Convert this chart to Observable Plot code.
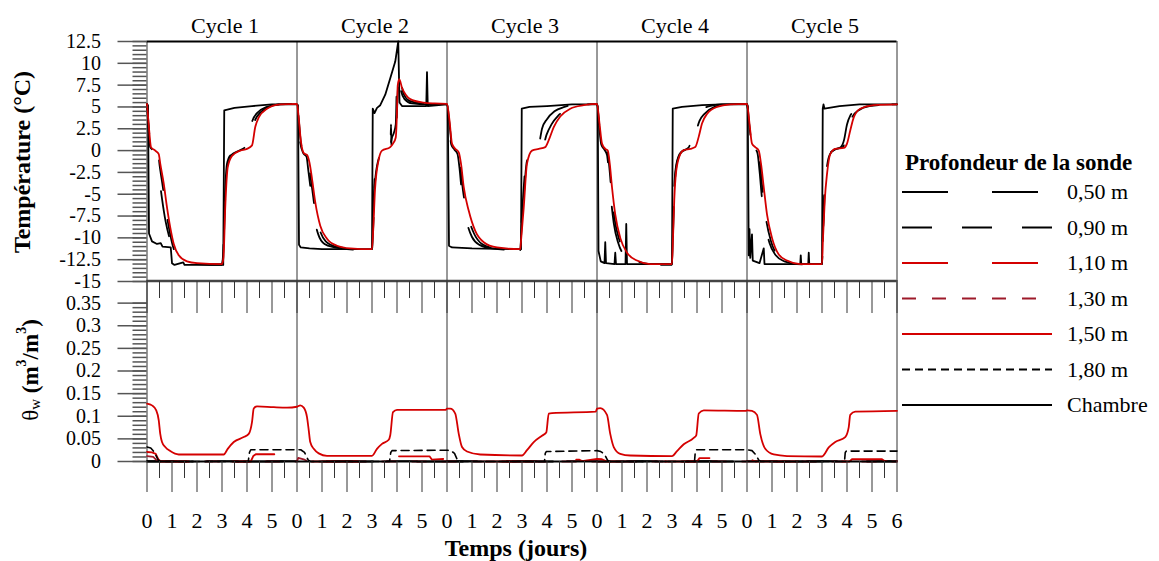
<!DOCTYPE html>
<html><head><meta charset="utf-8">
<script src="https://cdn.jsdelivr.net/npm/d3@7"></script>
<script src="https://cdn.jsdelivr.net/npm/@observablehq/plot@0.6"></script>
<style>
html,body{margin:0;padding:0;background:#fff;}
#chart{position:relative;width:1159px;height:561px;overflow:hidden;background:#fff;}
#chart svg{position:absolute;left:0;}
</style></head><body><div id="chart"></div>
<script>
// ---------------- DATA ----------------
const cycleLabels = ["Cycle 1", "Cycle 2", "Cycle 3", "Cycle 4", "Cycle 5"];
const cycleStarts = [0, 6, 12, 18, 24];
const cycleBounds = [0, 6, 12, 18, 24, 30];
const tempTicks = [-15, -12.5, -10, -7.5, -5, -2.5, 0, 2.5, 5, 7.5, 10, 12.5];
const thetaTicks = [0, 0.05, 0.1, 0.15, 0.2, 0.25, 0.3, 0.35];
const thetaTickLabels = ["0", "0.05", "0.1", "0.15", "0.2", "0.25", "0.3", "0.35"];
const dayTickLabels = ["0","1","2","3","4","5","0","1","2","3","4","5","0","1","2","3","4","5",
                       "0","1","2","3","4","5","0","1","2","3","4","5","6"];
const legendLabels = ["0,50 m", "0,90 m", "1,10 m", "1,30 m", "1,50 m", "1,80 m", "Chambre"];

// Temperature (°C) vs global time (days)
const tempChambre = [
 [0,5.3],[0.04,5.2],[0.08,-9.5],[0.2,-10.4],[0.4,-10.7],[0.55,-10.6],[0.62,-11.0],[0.95,-11.1],[1.0,-12.9],[1.1,-13.1],[1.45,-12.8],[1.5,-13.1],[3.05,-13.1],[3.09,4.6],[3.5,4.9],[4.2,5.1],[5.0,5.3],
 [6.0,5.3],[6.04,5.2],[6.08,-10.8],[6.15,-11.1],[6.5,-11.2],[7.0,-11.3],[9.0,-11.3],[9.03,4.8],[9.1,4.3],[9.2,4.9],[9.33,5.2],[9.53,6.4],[9.73,8.3],[9.93,10.2],[10.05,12.5],[10.1,5.5],[10.2,5.1],[11.17,5.1],[11.2,9.0],[11.23,5.1],
 [12.0,5.3],[12.03,5.0],[12.08,-10.9],[12.2,-11.1],[13.0,-11.2],[14.96,-11.3],[14.99,4.8],[15.3,5.0],[16.0,5.1],[17.0,5.3],
 [18.0,5.3],[18.03,5.1],[18.06,-11.5],[18.15,-12.7],[18.3,-12.9],[18.33,-10.5],[18.36,-12.9],[18.7,-13.0],[18.73,-11.7],[18.76,-13.0],[19.14,-13.0],[19.17,-8.4],[19.2,-13.0],[21.0,-13.0],[21.03,4.8],[21.4,5.0],[22.2,5.2],[23.0,5.3],
 [24.0,5.3],[24.03,5.0],[24.07,-12.0],[24.1,-9.0],[24.13,-12.3],[24.2,-9.6],[24.23,-12.6],[24.5,-12.9],[24.67,-11.2],[24.7,-13.0],[26.13,-13.0],[26.15,-12.0],[26.17,-13.0],[26.45,-13.0],[26.47,-11.7],[26.49,-13.0],[27.0,-13.0],[27.03,4.8],[27.06,5.3],[27.1,4.8],[27.7,5.1],[28.5,5.3],[30.0,5.3]
];
const temp050 = [
 [0,5.36],[0.05,3.0],[0.13,0.4],[0.3,-0.1],[0.4,-0.6],[0.47,-2.5],[0.6,-5.5],[0.75,-8.2],[0.9,-10.0],[1.05,-11.3],[1.2,-12.3],[1.5,-12.8],[2.0,-13.0],[3.0,-13.1],[3.05,-11.5],[3.12,-5.0],[3.2,-1.5],[3.35,-0.5],[3.6,-0.2],[3.85,0.3],[3.95,1.2],[4.05,1.5],[4.2,3.3],[4.4,4.3],[4.8,5.0],[5.3,5.3],
 [6.0,5.36],[6.04,4.0],[6.13,0.9],[6.25,-0.3],[6.38,-0.7],[6.45,-2.2],[6.55,-4.5],[6.68,-7.5],[6.85,-9.6],[7.1,-10.7],[7.5,-11.1],[8.0,-11.3],[9.0,-11.4],[9.04,-8.0],[9.1,-3.5],[9.22,-0.8],[9.4,-0.3],[9.7,0.2],[9.8,1.5],[9.87,2.0],[9.95,3.0],[10.0,8.0],[10.07,9.0],[10.15,7.0],[10.3,5.9],[10.6,5.4],[11.2,5.3],
 [12.0,5.36],[12.08,3.2],[12.17,0.7],[12.3,0.1],[12.42,-0.4],[12.5,-2.0],[12.6,-5.0],[12.78,-8.0],[13.0,-9.9],[13.3,-10.8],[13.8,-11.2],[14.93,-11.4],[14.97,-9.0],[15.05,-5.0],[15.17,-1.2],[15.35,-0.1],[15.6,0.2],[15.7,1.0],[15.8,2.5],[16.0,3.6],[16.3,4.5],[16.7,5.0],[17.2,5.3],
 [18.0,5.36],[18.08,3.0],[18.17,0.7],[18.3,0.1],[18.4,-0.5],[18.47,-2.3],[18.56,-5.5],[18.67,-8.3],[18.85,-10.6],[19.1,-12.0],[19.5,-12.7],[20.0,-13.0],[21.0,-13.1],[21.04,-9.0],[21.08,-5.0],[21.15,-2.0],[21.3,-0.4],[21.45,0.0],[21.65,0.3],[21.75,1.0],[21.87,3.0],[22.0,4.0],[22.13,4.5],[22.5,5.1],[23.0,5.3],
 [24.0,5.36],[24.08,3.0],[24.17,0.7],[24.3,0.3],[24.42,-0.3],[24.5,-2.3],[24.6,-5.5],[24.72,-8.3],[24.9,-10.6],[25.15,-12.0],[25.5,-12.7],[26.0,-13.0],[27.0,-13.1],[27.04,-9.0],[27.09,-5.0],[27.17,-2.0],[27.3,-0.4],[27.5,0.1],[27.75,0.4],[27.88,1.2],[28.0,3.0],[28.13,4.0],[28.27,4.5],[28.6,5.1],[29.1,5.3],[30.0,5.3]
];
const temp090 = [
 [0,5.36],[0.06,3.0],[0.15,0.4],[0.32,0.0],[0.45,-0.5],[0.51,-1.8],[0.64,-4.3],[0.77,-7.0],[0.9,-9.2],[1.04,-11.0],[1.22,-12.1],[1.55,-12.8],[2.0,-13.0],[3.0,-13.0],[3.05,-12.0],[3.12,-6.0],[3.21,-1.8],[3.38,-0.5],[3.7,0.0],[3.95,0.5],[4.1,1.5],[4.25,3.0],[4.4,3.9],[4.75,4.8],[5.3,5.3],
 [6.0,5.36],[6.05,4.2],[6.15,1.0],[6.26,-0.3],[6.39,-0.6],[6.48,-1.8],[6.58,-3.8],[6.71,-6.6],[6.9,-9.0],[7.15,-10.4],[7.55,-11.0],[8.1,-11.2],[9.0,-11.3],[9.05,-8.6],[9.11,-4.0],[9.25,-1.1],[9.4,-0.3],[9.7,0.0],[9.74,0.5],[9.76,3.0],[9.78,0.6],[9.88,1.0],[9.97,2.5],[10.02,6.0],[10.08,8.9],[10.25,6.6],[10.5,5.7],[11.0,5.4],
 [12.0,5.36],[12.09,3.3],[12.19,0.8],[12.32,0.15],[12.45,-0.3],[12.53,-1.7],[12.64,-4.6],[12.83,-7.4],[13.08,-9.5],[13.4,-10.7],[13.9,-11.2],[14.93,-11.4],[14.97,-9.5],[15.06,-5.8],[15.19,-1.3],[15.38,0.0],[15.65,0.2],[15.85,0.6],[15.98,1.8],[16.18,3.0],[16.45,4.0],[16.85,4.8],[17.4,5.2],
 [18.0,5.36],[18.09,3.0],[18.19,0.8],[18.32,0.1],[18.42,-0.2],[18.49,-1.8],[18.58,-4.8],[18.7,-7.8],[18.9,-10.3],[19.15,-11.8],[19.55,-12.6],[20.1,-13.0],[21.0,-13.0],[21.04,-9.5],[21.09,-5.3],[21.16,-2.1],[21.32,-0.4],[21.46,0.0],[21.7,0.2],[21.85,0.8],[21.97,2.2],[22.1,3.4],[22.3,4.2],[22.7,5.0],[23.2,5.3],
 [24.0,5.36],[24.09,3.0],[24.19,0.8],[24.32,0.35],[24.45,0.0],[24.53,-1.8],[24.63,-4.8],[24.76,-7.8],[24.95,-10.3],[25.2,-11.9],[25.55,-12.6],[26.1,-13.0],[27.0,-13.0],[27.04,-9.5],[27.1,-5.3],[27.18,-2.3],[27.32,-0.4],[27.52,0.15],[27.8,0.35],[27.95,1.2],[28.07,2.8],[28.2,3.8],[28.45,4.6],[28.9,5.1],[30.0,5.3]
];
const temp150 = [
 [0,5.36],[0.065,3.1],[0.16,0.4],[0.33,0.0],[0.47,-0.4],[0.53,-1.5],[0.67,-3.8],[0.8,-6.5],[0.93,-8.8],[1.07,-10.7],[1.27,-12.0],[1.6,-12.7],[2.0,-12.9],[3.0,-13.0],[3.06,-12.2],[3.13,-6.5],[3.23,-1.9],[3.4,-0.6],[3.73,0.0],[4.0,0.2],[4.2,0.6],[4.33,2.7],[4.47,3.8],[4.8,4.8],[5.33,5.3],
 [6.0,5.36],[6.05,4.3],[6.16,1.0],[6.27,-0.3],[6.4,-0.5],[6.5,-1.4],[6.6,-3.2],[6.73,-5.9],[6.93,-8.6],[7.2,-10.1],[7.6,-10.9],[8.13,-11.2],[9.0,-11.3],[9.05,-9.0],[9.12,-4.5],[9.27,-1.0],[9.4,0.0],[9.73,0.4],[9.84,0.8],[9.95,1.5],[9.99,3.6],[10.03,7.5],[10.09,8.2],[10.2,7.2],[10.35,6.4],[10.53,5.9],[11.07,5.5],[11.5,5.4],
 [12.0,5.36],[12.1,3.45],[12.2,0.8],[12.33,0.2],[12.47,-0.2],[12.56,-1.5],[12.67,-4.2],[12.87,-6.9],[13.13,-9.2],[13.47,-10.5],[14.0,-11.1],[14.93,-11.3],[14.97,-10.0],[15.07,-6.5],[15.2,-1.5],[15.4,0.0],[15.67,0.2],[15.93,0.4],[16.07,1.2],[16.27,2.7],[16.53,3.9],[16.93,4.8],[17.47,5.2],
 [18.0,5.36],[18.1,3.1],[18.2,0.8],[18.33,0.2],[18.43,0.0],[18.51,-1.5],[18.6,-4.2],[18.73,-7.3],[18.93,-10.0],[19.2,-11.7],[19.6,-12.6],[20.13,-13.0],[21.0,-13.0],[21.04,-10.0],[21.09,-5.7],[21.17,-2.3],[21.33,-0.4],[21.47,0.05],[21.73,0.2],[21.93,0.4],[22.07,1.6],[22.2,3.1],[22.4,4.2],[22.8,5.0],[23.33,5.3],
 [24.0,5.36],[24.1,3.1],[24.2,0.8],[24.33,0.4],[24.47,0.0],[24.56,-1.5],[24.67,-4.2],[24.8,-7.3],[25.0,-10.0],[25.27,-11.9],[25.6,-12.6],[26.13,-13.0],[27.0,-13.0],[27.04,-10.0],[27.11,-5.7],[27.2,-2.7],[27.33,-0.4],[27.53,0.2],[27.87,0.3],[28.0,0.8],[28.13,2.3],[28.27,3.8],[28.53,4.8],[29.07,5.2],[30.0,5.3]
];

// Water content θw (m³/m³) vs global time (days)
const theta050 = [[0,0.0],[30,0.0]];
const theta090 = [[0,0.001],[30,0.001]];
const theta110 = [
 [0,0.021],[0.2,0.02],[0.35,0.017],[0.45,0.005],[0.55,0],[4.15,0],[4.25,0.012],[4.35,0.016],[5.2,0.016],[5.3,0.004],
 [6.0,0.015],[6.2,0.013],[6.35,0.006],[6.45,0],[9.85,0],[9.95,0.01],[10.1,0.0115],[11.3,0.0115],[11.4,0.004],
 [12.0,0.006],[12.2,0.005],[12.35,0.001],[12.45,0],[16.05,0],[16.15,0.004],[17.3,0.004],[17.4,0.001],
 [18.0,0.006],[18.2,0.005],[18.35,0.001],[18.45,0],[22.0,0],[22.1,0.0075],[23.4,0.0075],[23.5,0.002],
 [24.0,0.004],[24.2,0.003],[24.35,0],[28.1,0],[28.2,0.005],[29.4,0.005],[29.5,0.001],[30.0,0.001]
];
const theta130 = [[0,0.012],[0.25,0.01],[0.4,0.002],[0.5,0],[6.0,0],[6.05,0.008],[6.3,0.004],[6.45,0],[30,0]];
const theta150 = [
 [0,0.128],[0.2,0.124],[0.37,0.113],[0.47,0.091],[0.53,0.061],[0.6,0.043],[0.73,0.032],[0.93,0.023],[1.27,0.0155],[3.07,0.0155],[3.23,0.028],[3.47,0.043],[3.87,0.054],[4.07,0.061],[4.2,0.087],[4.27,0.117],[4.4,0.122],[5.07,0.120],[5.6,0.119],
 [6.0,0.121],[6.13,0.124],[6.27,0.119],[6.4,0.098],[6.47,0.069],[6.53,0.043],[6.67,0.028],[6.87,0.018],[7.2,0.0126],[9.0,0.0126],[9.2,0.028],[9.4,0.039],[9.67,0.048],[9.73,0.058],[9.84,0.109],[10.0,0.114],[11.95,0.114],
 [12.0,0.117],[12.13,0.117],[12.33,0.106],[12.47,0.061],[12.6,0.032],[12.8,0.022],[13.33,0.0155],[15.0,0.0133],[15.2,0.025],[15.47,0.043],[15.8,0.057],[15.97,0.064],[16.07,0.106],[16.2,0.107],[17.95,0.110],
 [18.0,0.117],[18.13,0.118],[18.4,0.103],[18.53,0.061],[18.67,0.032],[18.93,0.017],[19.33,0.0133],[21.0,0.012],[21.2,0.023],[21.47,0.038],[21.87,0.052],[21.97,0.058],[22.07,0.106],[22.27,0.113],[23.95,0.112],
 [24.0,0.113],[24.2,0.112],[24.4,0.103],[24.53,0.061],[24.73,0.028],[25.07,0.0155],[25.6,0.012],[27.0,0.0111],[27.27,0.031],[27.53,0.043],[27.93,0.054],[28.07,0.076],[28.13,0.103],[28.33,0.110],[30.0,0.112]
];
const theta180 = [
 [0,0.032],[0.15,0.030],[0.3,0.02],[0.45,0.003],[0.55,0.0],[4.05,0.0],[4.1,0.02],[4.15,0.026],
 [6.0,0.026],[6.15,0.026],[6.3,0.02],[6.45,0.003],[6.55,0.0],[9.7,0.0],[9.75,0.02],[9.8,0.024],
 [12.0,0.025],[12.15,0.024],[12.3,0.018],[12.42,0.003],[12.5,0.0],[15.9,0.0],[15.93,0.018],[15.97,0.022],
 [18.0,0.024],[18.15,0.022],[18.3,0.016],[18.42,0.003],[18.5,0.0],[21.9,0.0],[21.93,0.02],[21.97,0.026],
 [24.0,0.026],[24.2,0.024],[24.35,0.015],[24.47,0.003],[24.55,0.0],[27.9,0.0],[27.93,0.02],[27.97,0.023],[30.0,0.023]
];

// ---------------- STYLES ----------------
const RED = "#d40000", DARKRED = "#9e1a2a", BLACK = "#000";
const seriesStyle = {
  "0,50 m": {stroke: BLACK, dash: "46,44"},
  "0,90 m": {stroke: BLACK, dash: "30,30"},
  "1,10 m": {stroke: RED, dash: "46,44"},
  "1,30 m": {stroke: DARKRED, dash: "14,16"},
  "1,50 m": {stroke: RED, dash: null},
  "1,80 m": {stroke: BLACK, dash: "8,5"},
  "Chambre": {stroke: BLACK, dash: null}
};
const FONT = "'Liberation Serif', 'Times New Roman', serif";

function lineOf(data, key, curve, sw = 1.8) {
  const s = seriesStyle[key];
  const o = {x: d => d[0], y: d => d[1], stroke: s.stroke, strokeWidth: sw, curve};
  if (s.dash) o.strokeDasharray = s.dash;
  return Plot.line(data, o);
}

const W = 900, ML = 146.5, MR = 3.5;
const days = d3.range(0, 31);
const halfDays = d3.range(0.5, 30, 1);
const minorTemp = d3.range(-15, 12.51, 0.5);
const minorTheta = d3.range(0, 0.3501, 0.01);
const baseStyle = {background: "transparent", fontFamily: FONT, fontSize: "21px", color: "#000", overflow: "visible"};

const topPlot = Plot.plot({
  width: W, height: 316,
  marginLeft: ML, marginRight: MR, marginTop: 41, marginBottom: 35,
  style: baseStyle,
  x: {domain: [0, 30]},
  y: {domain: [-15, 12.5]},
  marks: [
    Plot.ruleX(cycleBounds, {stroke: "#333", strokeWidth: 1}),
    Plot.ruleY([-15], {stroke: "#444", strokeWidth: 1.5}),
    lineOf(tempChambre, "Chambre", "linear", 1.8),
    lineOf(temp090, "0,90 m", "monotone-x"),
    lineOf(temp050, "0,50 m", "monotone-x"),
    lineOf(temp150, "1,50 m", "monotone-x", 1.8),
    Plot.ruleY([12.5], {stroke: "#000", strokeWidth: 2}),
    Plot.axisY(minorTemp, {tickSize: 14, fill: "none", stroke: "#555", strokeWidth: 1.5}),
    Plot.axisY(tempTicks, {tickSize: 29, tickPadding: 17, tickFormat: d => String(d), stroke: "#555", strokeWidth: 1.5, label: null, fontSize: 20}),
    Plot.axisX(halfDays, {anchor: "bottom", tickSize: 17, fill: "none", stroke: "#333"}),
    Plot.axisX(days, {anchor: "bottom", tickSize: 32, fill: "none", stroke: "#333"}),
    Plot.text(cycleLabels, {x: (d, i) => cycleStarts[i] + 3, y: 12.5, dy: -16, dx: 3, text: d => d, fontSize: 22})
  ]
});

const botPlot = Plot.plot({
  width: W, height: 281,
  marginLeft: ML, marginRight: MR, marginTop: 0, marginBottom: 100,
  style: baseStyle,
  x: {domain: [0, 30]},
  y: {domain: [0, 0.4]},
  marks: [
    Plot.ruleX(cycleBounds, {stroke: "#333", strokeWidth: 1}),
    Plot.ruleY([0.4], {stroke: "#444", strokeWidth: 1.5}),
    lineOf(theta050, "0,50 m", "linear"),
    lineOf(theta090, "0,90 m", "linear"),
    lineOf(theta130, "1,30 m", "linear"),
    lineOf(theta110, "1,10 m", "linear"),
    lineOf(theta180, "1,80 m", "linear", 1.6),
    lineOf(theta150, "1,50 m", "monotone-x", 1.8),
    Plot.ruleY([0], {stroke: "#000", strokeWidth: 2}),
    Plot.axisY(minorTheta, {tickSize: 14, fill: "none", stroke: "#555", strokeWidth: 1.5}),
    Plot.axisY(thetaTicks, {tickSize: 29, tickPadding: 17, tickFormat: d => thetaTickLabels[thetaTicks.indexOf(d)], stroke: "#555", strokeWidth: 1.5, label: null, fontSize: 20}),
    Plot.axisX(halfDays, {anchor: "bottom", tickSize: 17, fill: "none", stroke: "#333"}),
    Plot.axisX(days, {anchor: "bottom", tickSize: 31, tickPadding: 20, tickFormat: d => dayTickLabels[d], stroke: "#333", label: null, fontSize: 22})
  ]
});

const chart = document.getElementById("chart");
topPlot.style.top = "0px";
botPlot.style.top = "280px";
chart.appendChild(botPlot);
chart.appendChild(topPlot);

// ---------------- overlay: titles & legend ----------------
const ov = d3.create("svg").attr("width", 1159).attr("height", 561)
  .style("position", "absolute").style("left", "0px").style("top", "0px")
  .style("font-family", FONT).style("pointer-events", "none");

ov.append("text").attr("transform", "translate(22,162) rotate(-90)")
  .attr("text-anchor", "middle").attr("dominant-baseline", "central")
  .attr("font-weight", "bold").attr("font-size", 24).text("Température (°C)");

const th = ov.append("text").attr("transform", "translate(30,370) rotate(-90)")
  .attr("text-anchor", "middle").attr("dominant-baseline", "central").attr("font-size", 23);
th.append("tspan").text("θ");
th.append("tspan").attr("font-size", 15).attr("dy", 5).text("w");
th.append("tspan").attr("dy", -5).attr("font-weight", "bold").text(" (m");
th.append("tspan").attr("font-size", 14).attr("dy", -9).attr("font-weight", "bold").text("3");
th.append("tspan").attr("dy", 9).attr("font-weight", "bold").text("/m");
th.append("tspan").attr("font-size", 14).attr("dy", -9).attr("font-weight", "bold").text("3");
th.append("tspan").attr("dy", 9).attr("font-weight", "bold").text(")");

ov.append("text").attr("x", 516).attr("y", 556).attr("text-anchor", "middle")
  .attr("font-weight", "bold").attr("font-size", 24).text("Temps (jours)");

ov.append("text").attr("x", 905).attr("y", 170).attr("font-weight", "bold")
  .attr("font-size", 23).text("Profondeur de la sonde");

legendLabels.forEach((lab, i) => {
  const y = 192 + i * 35.5;
  const s = seriesStyle[lab];
  const ln = ov.append("line").attr("x1", 902).attr("x2", 1052).attr("y1", y).attr("y2", y)
    .attr("stroke", s.stroke).attr("stroke-width", 2);
  if (s.dash) ln.attr("stroke-dasharray", s.dash);
  ov.append("text").attr("x", 1067).attr("y", y + 7).attr("font-size", 22).text(lab);
});

chart.appendChild(ov.node());
</script></body></html>
